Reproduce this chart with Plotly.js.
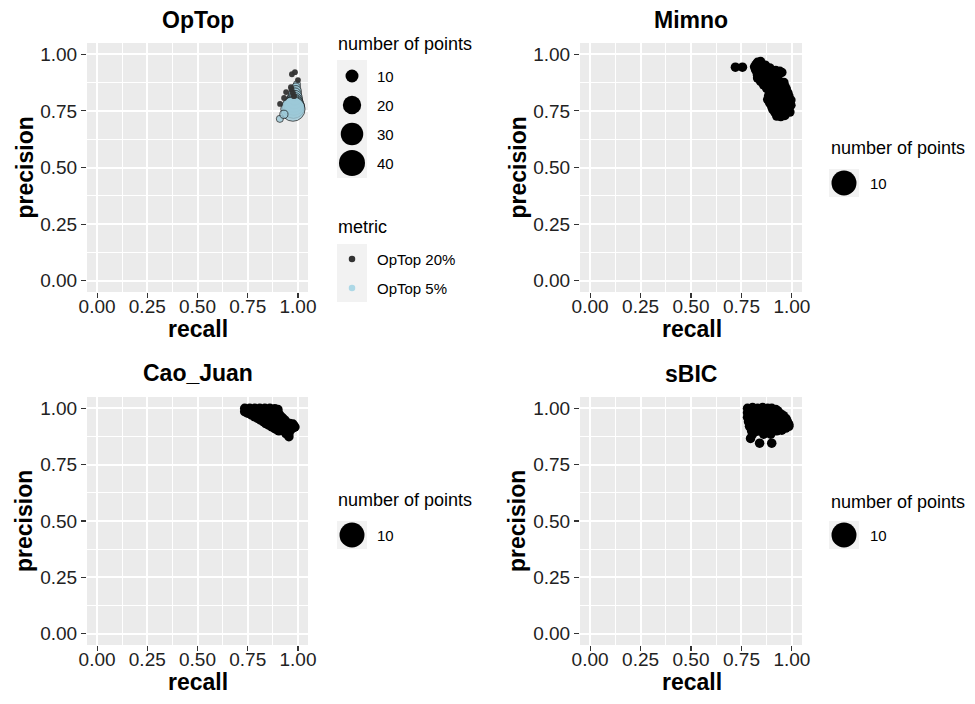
<!DOCTYPE html>
<html><head><meta charset="utf-8">
<script src="https://cdn.plot.ly/plotly-3.0.1.min.js"></script>
<style>body{margin:0;padding:0;background:#fff}#chart{width:975px;height:704px}</style>
</head><body><div id="chart"></div>
<script>
// ---------------- data ----------------
const panelTitles = ['OpTop', 'Mimno', 'Cao_Juan', 'sBIC'];
const xTitle = 'recall';
const yTitle = 'precision';
const tickVals = [0, 0.25, 0.5, 0.75, 1];
const tickText = ['0.00', '0.25', '0.50', '0.75', '1.00'];
const minorVals = [0.125, 0.375, 0.625, 0.875];

const sizeLegendTitle = 'number of points';
const sizeBreaks = [10, 20, 30, 40];
const sizeBreakLabels = ['10', '20', '30', '40'];
const singleSizeBreak = [10];
const metricTitle = 'metric';
const metricLabels = ['OpTop 20%', 'OpTop 5%'];
const metricColors = ['#333333', '#ADD8E6'];

// OpTop 20%
const optop20Recall    = [0.970, 0.985, 1.000, 0.941, 0.965, 0.911, 0.931, 0.968, 0.975, 0.980];
const optop20Precision = [0.912, 0.921, 0.886, 0.833, 0.855, 0.781, 0.807, 0.845, 0.830, 0.815];
const optop20N         = [2, 2, 2, 2, 2, 2, 2, 2, 2, 2];
// OpTop 5%
const optop5Recall    = [0.995, 0.990, 0.990, 0.985, 0.985, 0.982, 0.980, 0.980, 0.978, 0.975, 0.910, 0.930];
const optop5Precision = [0.868, 0.853, 0.838, 0.823, 0.808, 0.795, 0.784, 0.775, 0.766, 0.758, 0.715, 0.735];
const optop5N         = [3, 5, 7, 10, 13, 16, 20, 24, 29, 35, 3, 4];

// Mimno
const mimnoRecall = [
  0.830, 0.845,
  0.822, 0.845, 0.868,
  0.720, 0.755, 0.815, 0.840, 0.865, 0.890,
  0.820, 0.840, 0.860, 0.880, 0.900, 0.920, 0.940,
  0.827, 0.850, 0.875, 0.900, 0.925, 0.950,
  0.830, 0.850, 0.870, 0.890, 0.910, 0.930,
  0.830, 0.855, 0.880, 0.905, 0.925,
  0.845, 0.865, 0.885, 0.905, 0.925, 0.945, 0.960,
  0.860, 0.885, 0.910, 0.935, 0.955, 0.965,
  0.875, 0.895, 0.915, 0.935, 0.955, 0.972,
  0.890, 0.910, 0.935, 0.960, 0.980,
  0.885, 0.905, 0.925, 0.945, 0.965, 0.985,
  0.880, 0.905, 0.930, 0.955, 0.975, 0.995,
  0.890, 0.910, 0.930, 0.950, 0.970, 0.990,
  0.900, 0.925, 0.950, 0.975, 0.995,
  0.905, 0.925, 0.945, 0.965, 0.985,
  0.915, 0.940, 0.965, 0.990,
  0.925, 0.945, 0.965];
const mimnoPrecision = [
  0.965, 0.968,
  0.955, 0.957, 0.952,
  0.943, 0.943, 0.945, 0.945, 0.942, 0.940,
  0.932, 0.932, 0.933, 0.931, 0.930, 0.928, 0.925,
  0.920, 0.922, 0.920, 0.918, 0.916, 0.920,
  0.907, 0.908, 0.907, 0.906, 0.905, 0.903,
  0.895, 0.897, 0.895, 0.893, 0.890,
  0.880, 0.881, 0.880, 0.879, 0.878, 0.877, 0.876,
  0.865, 0.868, 0.865, 0.862, 0.866, 0.860,
  0.850, 0.851, 0.849, 0.850, 0.848, 0.847,
  0.835, 0.832, 0.836, 0.832, 0.830,
  0.818, 0.817, 0.819, 0.818, 0.816, 0.815,
  0.800, 0.802, 0.798, 0.800, 0.802, 0.798,
  0.785, 0.786, 0.784, 0.785, 0.786, 0.788,
  0.770, 0.768, 0.772, 0.767, 0.775,
  0.757, 0.756, 0.757, 0.758, 0.760,
  0.745, 0.742, 0.746, 0.745,
  0.727, 0.725, 0.730];

// Cao_Juan
const caoRecall = [
  0.735, 0.760, 0.785, 0.810, 0.835, 0.860, 0.885, 0.900,
  0.745, 0.770, 0.795, 0.820, 0.845, 0.870, 0.895,
  0.735, 0.760, 0.785, 0.810, 0.835, 0.860, 0.885, 0.900,
  0.750, 0.775, 0.800, 0.825, 0.850, 0.875, 0.900,
  0.770, 0.795, 0.820, 0.845, 0.870, 0.895, 0.910,
  0.785, 0.810, 0.835, 0.860, 0.885, 0.910, 0.920,
  0.800, 0.825, 0.850, 0.875, 0.900, 0.925,
  0.815, 0.840, 0.865, 0.890, 0.915, 0.935,
  0.830, 0.855, 0.880, 0.905, 0.925, 0.940,
  0.840, 0.865, 0.890, 0.915, 0.940, 0.960, 0.975,
  0.855, 0.880, 0.905, 0.930, 0.955, 0.980,
  0.870, 0.895, 0.920, 0.945, 0.970, 0.985,
  0.885, 0.910, 0.935, 0.960, 0.980,
  0.895, 0.920, 0.945, 0.965,
  0.905, 0.930, 0.950,
  0.940, 0.955,
  0.955];
const caoPrecision = [
  1.000, 1.000, 1.000, 1.000, 1.000, 1.000, 0.998, 0.995,
  0.993, 0.993, 0.993, 0.993, 0.993, 0.993, 0.993,
  0.985, 0.985, 0.985, 0.985, 0.985, 0.985, 0.985, 0.985,
  0.978, 0.978, 0.978, 0.978, 0.978, 0.978, 0.978,
  0.970, 0.970, 0.970, 0.970, 0.970, 0.970, 0.970,
  0.962, 0.962, 0.962, 0.962, 0.962, 0.962, 0.960,
  0.955, 0.955, 0.955, 0.955, 0.955, 0.955,
  0.947, 0.947, 0.947, 0.947, 0.947, 0.947,
  0.940, 0.940, 0.940, 0.940, 0.940, 0.940,
  0.932, 0.932, 0.932, 0.932, 0.932, 0.932, 0.930,
  0.925, 0.925, 0.925, 0.925, 0.925, 0.922,
  0.917, 0.917, 0.917, 0.917, 0.917, 0.917,
  0.910, 0.910, 0.910, 0.910, 0.915,
  0.905, 0.905, 0.905, 0.905,
  0.900, 0.900, 0.898,
  0.888, 0.888,
  0.874];

// sBIC
const sbicRecall = [
  0.780, 0.805, 0.830, 0.855, 0.880, 0.900, 0.920,
  0.790, 0.815, 0.840, 0.865, 0.890, 0.910, 0.930,
  0.780, 0.805, 0.830, 0.855, 0.880, 0.905, 0.930, 0.945,
  0.790, 0.815, 0.840, 0.865, 0.890, 0.915, 0.940, 0.958,
  0.780, 0.805, 0.830, 0.855, 0.880, 0.905, 0.930, 0.955, 0.970,
  0.790, 0.815, 0.840, 0.865, 0.890, 0.915, 0.940, 0.965, 0.975,
  0.785, 0.810, 0.835, 0.860, 0.885, 0.910, 0.935, 0.960, 0.980,
  0.795, 0.820, 0.845, 0.870, 0.895, 0.920, 0.945, 0.970, 0.985,
  0.790, 0.815, 0.840, 0.865, 0.890, 0.915, 0.940, 0.965, 0.985,
  0.800, 0.825, 0.850, 0.875, 0.900, 0.925, 0.950, 0.970,
  0.800, 0.825, 0.850, 0.875, 0.900, 0.925, 0.950,
  0.805, 0.860, 0.895,
  0.795, 0.840, 0.900];
const sbicPrecision = [
  1.000, 1.003, 1.000, 1.003, 1.000, 1.000, 0.995,
  0.990, 0.990, 0.990, 0.990, 0.990, 0.990, 0.988,
  0.980, 0.980, 0.980, 0.980, 0.980, 0.980, 0.978, 0.975,
  0.970, 0.970, 0.970, 0.970, 0.970, 0.970, 0.970, 0.967,
  0.960, 0.960, 0.960, 0.960, 0.960, 0.960, 0.960, 0.958, 0.955,
  0.950, 0.950, 0.950, 0.950, 0.950, 0.950, 0.950, 0.948, 0.945,
  0.940, 0.940, 0.940, 0.940, 0.940, 0.940, 0.940, 0.940, 0.935,
  0.930, 0.930, 0.930, 0.930, 0.930, 0.930, 0.930, 0.930, 0.928,
  0.920, 0.920, 0.920, 0.920, 0.920, 0.920, 0.920, 0.920, 0.920,
  0.910, 0.910, 0.910, 0.910, 0.910, 0.910, 0.910, 0.912,
  0.900, 0.898, 0.900, 0.898, 0.900, 0.900, 0.903,
  0.885, 0.885, 0.885,
  0.866, 0.845, 0.845];

// ---------------- layout helpers ----------------
const W = 975, H = 704;
const FONT = 'Liberation Sans, Arial, Helvetica, sans-serif';
const SIZEREF = 0.1183;
const PT_SIZE = 9.5;

// panel rectangles in pixels [left, right, top, bottom]
const panels = [
  [87, 308, 43, 292],
  [580, 802, 43, 292],
  [87, 308, 397, 645],
  [580, 802, 397, 645]
];

function xdom(p) { return [p[0] / W, p[1] / W]; }
function ydom(p) { return [1 - p[3] / H, 1 - p[2] / H]; }

function axisBase(domain, anchor) {
  return {
    domain: domain, anchor: anchor, range: [-0.05, 1.05], fixedrange: true,
    tickmode: 'array', tickvals: tickVals, ticktext: tickText,
    ticks: 'outside', ticklen: 5, tickwidth: 1.1, tickcolor: '#333333',
    tickfont: {family: FONT, size: 19, color: '#222222'},
    showgrid: true, gridcolor: '#FFFFFF', gridwidth: 2,
    minor: {tickmode: 'array', tickvals: minorVals, showgrid: true, gridcolor: '#FFFFFF', gridwidth: 1, ticks: ''},
    zeroline: false, showline: false
  };
}

const layout = {
  width: W, height: H,
  margin: {l: 0, r: 0, t: 0, b: 0},
  paper_bgcolor: '#FFFFFF',
  plot_bgcolor: 'rgba(0,0,0,0)',
  showlegend: false,
  font: {family: FONT, color: '#000000'},
  shapes: [],
  annotations: []
};

const ids = ['', '2', '3', '4'];
panels.forEach(function (p, i) {
  const xa = axisBase(xdom(p), 'y' + ids[i]);
  const ya = axisBase(ydom(p), 'x' + ids[i]);
  xa.ticklabelstandoff = -8;
  ya.ticklabelstandoff = 0;
  layout['xaxis' + ids[i]] = xa;
  layout['yaxis' + ids[i]] = ya;
  layout.shapes.push({type: 'rect', xref: 'x' + ids[i] + ' domain', yref: 'y' + ids[i] + ' domain',
    x0: 0, x1: 1, y0: 0, y1: 1, fillcolor: '#EBEBEB', line: {width: 0}, layer: 'below'});
});

// overlay axis in pixel coordinates for titles and legends
layout.xaxis5 = {domain: [0, 1], range: [0, W], visible: false, fixedrange: true, anchor: 'y5'};
layout.yaxis5 = {domain: [0, 1], range: [H, 0], visible: false, fixedrange: true, anchor: 'x5'};

function ann(text, x, y, opts) {
  const a = Object.assign({text: text, x: x, y: y, xref: 'x5', yref: 'y5', showarrow: false,
    xanchor: 'center', yanchor: 'middle', font: {family: FONT, size: 15, color: '#000000'}}, opts || {});
  layout.annotations.push(a);
}

// panel titles, axis titles
const titlePos = [[197.5, 20], [691, 20], [197.5, 373], [691, 374]];
panelTitles.forEach(function (t, i) {
  ann('<b>' + t + '</b>', titlePos[i][0], titlePos[i][1], {font: {family: FONT, size: 23, color: '#000'}});
  const p = panels[i];
  const cx = (p[0] + p[1]) / 2;
  const cy = (p[2] + p[3]) / 2;
  ann('<b>' + xTitle + '</b>', cx + 0.5, p[3] + 37, {font: {family: FONT, size: 23, color: '#000'}});
  ann('<b>' + yTitle + '</b>', p[0] - 63, cy, {textangle: -90, font: {family: FONT, size: 23, color: '#000'}});
});

// legend backgrounds
function keyBg(x0, x1, y0, y1) {
  layout.shapes.push({type: 'rect', xref: 'x5', yref: 'y5', x0: x0, x1: x1, y0: y0, y1: y1,
    fillcolor: '#F2F2F2', line: {width: 0}, layer: 'below'});
}
keyBg(337, 367, 60, 178);
keyBg(337, 367, 244, 302);
keyBg(829, 859, 169, 197);
keyBg(337, 367, 521, 549);
keyBg(829, 859, 521, 549);

const legTitle = {family: FONT, size: 18, color: '#000'};
const legText = {family: FONT, size: 15, color: '#000'};
ann(sizeLegendTitle, 336, 44, {xanchor: 'left', font: legTitle});
const sizeKeyY = [76, 105, 134, 163];
sizeBreakLabels.forEach(function (l, i) { ann(l, 375, sizeKeyY[i], {xanchor: 'left', font: legText}); });
ann(metricTitle, 336, 227, {xanchor: 'left', font: legTitle});
const metricKeyY = [259, 288];
metricLabels.forEach(function (l, i) { ann(l, 375, metricKeyY[i], {xanchor: 'left', font: legText}); });

const singleLegends = [[829, 148, 183], [336, 500, 535], [829, 502, 535]];
singleLegends.forEach(function (s) {
  ann(sizeLegendTitle, s[0], s[1], {xanchor: 'left', font: legTitle});
  ann(String(singleSizeBreak[0]), s[0] + 39, s[2], {xanchor: 'left', font: legText});
});

// ---------------- traces ----------------
const traces = [];
traces.push({type: 'scatter', mode: 'markers', x: optop5Recall, y: optop5Precision, xaxis: 'x', yaxis: 'y',
  hoverinfo: 'skip',
  marker: {color: '#9CC9D8', opacity: 0.8, size: optop5N, sizemode: 'area', sizeref: SIZEREF,
    line: {color: 'rgba(10,10,10,0.9)', width: 0.9}}});
traces.push({type: 'scatter', mode: 'markers', x: optop20Recall, y: optop20Precision, xaxis: 'x', yaxis: 'y',
  hoverinfo: 'skip',
  marker: {color: metricColors[0], opacity: 0.95, size: optop20N, sizemode: 'area', sizeref: SIZEREF, line: {width: 0}}});

const others = [[mimnoRecall, mimnoPrecision, '2'], [caoRecall, caoPrecision, '3'], [sbicRecall, sbicPrecision, '4']];
others.forEach(function (o) {
  traces.push({type: 'scatter', mode: 'markers', x: o[0], y: o[1], xaxis: 'x' + o[2], yaxis: 'y' + o[2],
    hoverinfo: 'skip', marker: {color: '#000000', opacity: 1, size: PT_SIZE, line: {width: 0}}});
});

// legend keys
traces.push({type: 'scatter', mode: 'markers', x: sizeBreaks.map(function () { return 352; }), y: sizeKeyY,
  xaxis: 'x5', yaxis: 'y5', hoverinfo: 'skip',
  marker: {color: '#000000', opacity: 1, size: sizeBreaks, sizemode: 'area', sizeref: SIZEREF, line: {width: 0}}});
traces.push({type: 'scatter', mode: 'markers', x: [352, 352], y: metricKeyY, xaxis: 'x5', yaxis: 'y5', hoverinfo: 'skip',
  marker: {color: metricColors, opacity: 1, size: 6.5, line: {width: 0}}});
traces.push({type: 'scatter', mode: 'markers', x: [844, 352, 844], y: [183, 535, 535], xaxis: 'x5', yaxis: 'y5',
  hoverinfo: 'skip', marker: {color: '#000000', opacity: 1, size: 25, line: {width: 0}}});

Plotly.newPlot('chart', traces, layout, {staticPlot: true, displayModeBar: false});
</script>
</body></html>
